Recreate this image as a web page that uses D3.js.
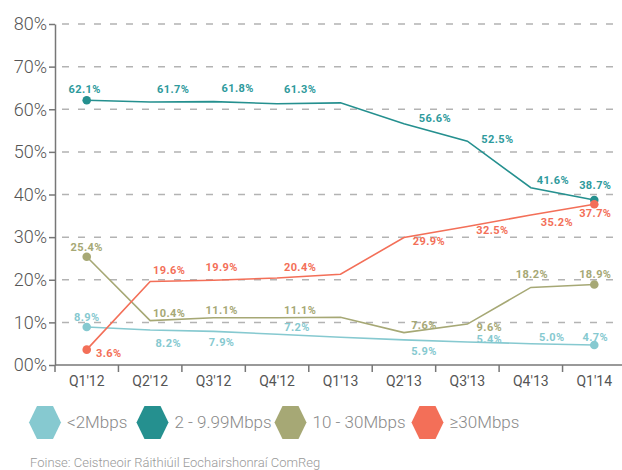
<!DOCTYPE html>
<html>
<head>
<meta charset="utf-8">
<script src="https://cdn.jsdelivr.net/npm/d3@7"></script>
<style>
  body { margin: 0; background: #fff; }
  svg { display: block; }
</style>
</head>
<body>
<div id="chart"></div>
<script>
// data
const quarters = ["Q1'12", "Q2'12", "Q3'12", "Q4'12", "Q1'13", "Q2'13", "Q3'13", "Q4'13", "Q1'14"];
const yTicks = [0, 10, 20, 30, 40, 50, 60, 70, 80];
const yTickLabels = ["00%", "10%", "20%", "30%", "40%", "50%", "60%", "70%", "80%"];

const under2 = [8.9, 8.2, 7.9, 7.2, 6.5, 5.9, 5.4, 5.0, 4.7];
const from2to10 = [62.1, 61.7, 61.8, 61.3, 61.5, 56.6, 52.5, 41.6, 38.7];
const from10to30 = [25.4, 10.4, 11.1, 11.1, 11.2, 7.6, 9.6, 18.2, 18.9];
const over30 = [3.6, 19.6, 19.9, 20.4, 21.3, 29.9, 32.5, 35.2, 37.7];

const seriesNames = ["<2Mbps", "2 - 9.99Mbps", "10 - 30Mbps", "≥30Mbps"];
// Q1'13 carries no value label in the original
const labelledQuarters = [0, 1, 2, 3, 5, 6, 7, 8];
const sourceNote = "Foinse: Ceistneoir Ráithiúil Eochairshonraí ComReg";

// styling
const colors = ["#86c9d0", "#25908f", "#a6a875", "#f36f58"];
const labelColors = ["#86c9d0", "#2e9a9c", "#a6a875", "#f36f58"];
// label nudges (px) relative to each point, same order as labelledQuarters
const labelNudge = [
  [[0, -10], [18, 13], [8, 11], [20, -7], [20, 11], [22, -3], [21, -7], [1, -8]],
  [[-2, -11], [23, -13], [24, -13], [23, -15], [31, -6], [30, -2], [22, -8], [1, -15]],
  [[0, -10], [19, -8], [8, -8], [23, -8], [20, -7], [22, 3], [1, -13], [1, -10]],
  [[22, 3], [19, -11], [8, -13], [23, -11], [25, 4], [25, 4], [26, 7], [1, 9]]
];
const legendX = [45, 152.5, 290.5, 427.5];

const width = 622, height = 470;
const margin = { top: 24, right: -4, bottom: 105, left: 55 };

const series = [under2, from2to10, from10to30, over30].map((values, i) => ({
  name: seriesNames[i], values: values, color: colors[i], labelColor: labelColors[i], nudge: labelNudge[i]
}));

const svg = d3.select("#chart").append("svg")
  .attr("width", width)
  .attr("height", height)
  .style("font-family", "Roboto, 'Open Sans', sans-serif");

const x = d3.scaleBand().domain(quarters).range([margin.left, width - margin.right]).padding(0);
const y = d3.scaleLinear().domain([0, 80]).range([height - margin.bottom, margin.top]);
const cx = i => x(quarters[i]) + x.bandwidth() / 2;

// dashed grid
svg.append("g")
  .selectAll("line")
  .data(yTicks.filter(d => d > 0))
  .join("line")
  .attr("x1", margin.left)
  .attr("x2", width)
  .attr("y1", d => y(d))
  .attr("y2", d => y(d))
  .attr("stroke", "#b3b3b3")
  .attr("stroke-width", 1.5)
  .attr("stroke-dasharray", "7 9")
  .attr("stroke-dashoffset", 9);

// y axis
const yAxis = svg.append("g")
  .attr("transform", "translate(" + margin.left + ",0)")
  .call(d3.axisLeft(y).tickValues(yTicks).tickFormat((d, i) => yTickLabels[i]).tickSize(6).tickSizeOuter(0).tickPadding(2));
yAxis.select(".domain").attr("stroke", "#777").attr("stroke-width", 1.5);
yAxis.selectAll(".tick line").attr("stroke", "#777").attr("stroke-width", 1.5);
yAxis.selectAll(".tick text")
  .attr("fill", "#555")
  .attr("font-size", 18)
  .attr("font-weight", 300)
  .attr("font-family", "Roboto, sans-serif");

// x axis
const xAxisY = y(0);
svg.append("line")
  .attr("x1", margin.left).attr("x2", width)
  .attr("y1", xAxisY).attr("y2", xAxisY)
  .attr("stroke", "#777").attr("stroke-width", 1.5);
svg.append("g")
  .selectAll("line")
  .data(quarters)
  .join("line")
  .attr("x1", d => x(d)).attr("x2", d => x(d))
  .attr("y1", xAxisY).attr("y2", xAxisY + 7)
  .attr("stroke", "#777").attr("stroke-width", 1.5);
svg.append("g")
  .selectAll("text")
  .data(quarters)
  .join("text")
  .attr("x", d => x(d) + x.bandwidth() / 2)
  .attr("y", xAxisY + 16)
  .attr("dy", "0.35em")
  .attr("text-anchor", "middle")
  .attr("fill", "#555")
  .attr("font-size", 14)
  .text(d => d);

// lines
const line = d3.line().x((d, i) => cx(i)).y(d => y(d));
svg.append("g")
  .selectAll("path")
  .data(series)
  .join("path")
  .attr("d", s => line(s.values))
  .attr("fill", "none")
  .attr("stroke", s => s.color)
  .attr("stroke-width", 1.6);

// end markers
svg.append("g")
  .selectAll("g")
  .data(series)
  .join("g")
  .selectAll("circle")
  .data(s => [0, quarters.length - 1].map(i => ({ i: i, v: s.values[i], color: s.color })))
  .join("circle")
  .attr("cx", d => cx(d.i))
  .attr("cy", d => y(d.v))
  .attr("r", 4.3)
  .attr("fill", d => d.color);

// value labels
svg.append("g")
  .selectAll("g")
  .data(series)
  .join("g")
  .selectAll("text")
  .data(s => labelledQuarters.map((q, k) => ({ q: q, v: s.values[q], n: s.nudge[k], color: s.labelColor })))
  .join("text")
  .attr("x", d => cx(d.q) + d.n[0])
  .attr("y", d => y(d.v) + d.n[1])
  .attr("dy", "0.35em")
  .attr("text-anchor", "middle")
  .attr("fill", d => d.color)
  .attr("font-size", 11)
  .attr("font-weight", 700)
  .attr("letter-spacing", 0.4)
  .text(d => d.v.toFixed(1) + "%");

// legend
const hex = (r, h) => [[-r, 0], [-r / 2, -h], [r / 2, -h], [r, 0], [r / 2, h], [-r / 2, h]];
const legend = svg.append("g")
  .selectAll("g")
  .data(series)
  .join("g")
  .attr("transform", (d, i) => "translate(" + legendX[i] + ",422.5)");
legend.append("polygon")
  .attr("points", hex(16, 16.5).map(p => p.join(",")).join(" "))
  .attr("fill", d => d.color);
legend.append("text")
  .attr("x", 22)
  .attr("dy", "0.35em")
  .attr("fill", "#8a8a8a")
  .attr("font-size", 17)
  .attr("font-weight", 300)
  .text(d => d.name);

// source note
svg.append("text")
  .attr("x", 30)
  .attr("y", 462)
  .attr("dy", "0.35em")
  .attr("fill", "#999")
  .attr("font-size", 13)
  .attr("font-weight", 300)
  .text(sourceNote);
</script>
</body>
</html>
